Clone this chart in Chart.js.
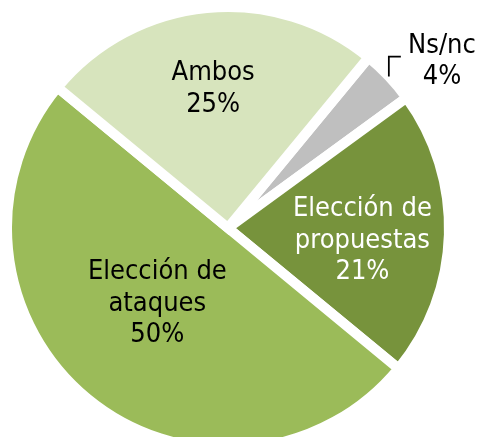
<!DOCTYPE html>
<html>
<head>
<meta charset="utf-8">
<script src="https://cdn.jsdelivr.net/npm/chart.js@4"></script>
<style>
  html, body { margin: 0; padding: 0; background: #ffffff; overflow: hidden; width: 479px; height: 437px; }
  #wrap { position: absolute; left: 0; top: 0; width: 479px; height: 437px; }
</style>
</head>
<body>
<div id="wrap"><canvas id="c"></canvas></div>
<script>
// Data (clockwise from the start angle)
const categories = [['Ns/nc'], ['Elección de', 'propuestas'], ['Elección de', 'ataques'], ['Ambos']];
const values = [4, 21, 50, 25];
const sliceColors = ['#BFBFBF', '#77933C', '#9BBB59', '#D7E4BD'];
const textColors = ['#000000', '#FFFFFF', '#000000', '#000000'];

// label placement (polar: fraction of radius, angle shift in degrees from slice bisector)
const labelRadius = [1.227, 0.611, 0.468, 0.633];
const labelAngleShift = [5.4, 3.7, 3.6, -0.6];

const sliceLabels = {
  id: 'sliceLabels',
  afterDatasetsDraw(chart) {
    const ctx = chart.ctx;
    const meta = chart.getDatasetMeta(0);
    const fontSize = 27;
    const lineH = 31.5;
    ctx.save();
    ctx.font = fontSize + "px 'DejaVu Sans Condensed', 'DejaVu Sans', sans-serif";
    ctx.textAlign = 'center';
    ctx.textBaseline = 'middle';
    meta.data.forEach((arc, i) => {
      const p = arc.getProps(['x', 'y', 'startAngle', 'endAngle', 'outerRadius'], true);
      const mid = (p.startAngle + p.endAngle) / 2;
      const a = mid + labelAngleShift[i] * Math.PI / 180;
      const r = p.outerRadius * labelRadius[i];
      const cx = p.x + Math.cos(a) * r;
      const cy = p.y + Math.sin(a) * r;
      const lines = categories[i].concat([values[i] + '%']);
      const top = cy - (lines.length - 1) * lineH / 2;
      ctx.fillStyle = textColors[i];
      lines.forEach((ln, k) => ctx.fillText(ln, cx, top + k * lineH));
      if (labelRadius[i] > 1) {
        // leader line from the slice edge
        const sx = p.x + Math.cos(mid) * p.outerRadius;
        const sy = p.y + Math.sin(mid) * p.outerRadius;
        const cornerY = top + 11;
        ctx.beginPath();
        ctx.strokeStyle = '#000000';
        ctx.lineWidth = 1.75;
        ctx.moveTo(sx, sy);
        ctx.lineTo(sx, cornerY);
        ctx.lineTo(sx + 12, cornerY);
        ctx.stroke();
      }
    });
    ctx.restore();
  }
};

new Chart(document.getElementById('c'), {
  type: 'pie',
  data: {
    labels: categories,
    datasets: [{
      data: values,
      backgroundColor: sliceColors,
      borderColor: '#FFFFFF',
      borderWidth: 10,
      borderAlign: 'center',
      borderJoinStyle: 'miter',
      hoverOffset: 0,
      hoverBorderWidth: 10
    }]
  },
  options: {
    responsive: true,
    maintainAspectRatio: false,
    animation: false,
    rotation: 39.5,
    radius: 221,
    layout: { padding: { left: 0, right: 23, top: 19, bottom: 0 } },
    plugins: { legend: { display: false }, tooltip: { enabled: false } }
  },
  plugins: [sliceLabels]
});
</script>
</body>
</html>
